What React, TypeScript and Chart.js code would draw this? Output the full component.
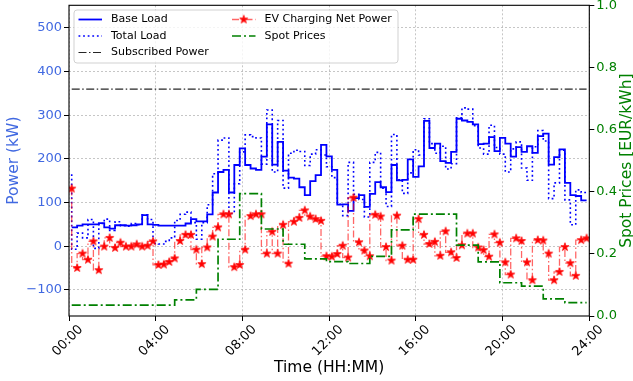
import React, { useEffect, useRef } from 'react';
import { Chart, registerables } from 'chart.js';

Chart.register(...registerables);

// ---- data (96 quarter-hour slots, 00:00 .. 24:00) ----
const BASE_LOAD = [
  43, 43, 47, 50, 50, 50, 53, 43,
  40, 48, 48, 47, 48, 50, 71, 50,
  49, 47, 47, 47, 47, 47, 52, 62,
  57, 57, 73, 123, 170, 175, 123, 186,
  224, 186, 178, 175, 205, 279, 187, 239,
  173, 157, 155, 135, 117, 149, 163, 232,
  206, 175, 95, 96, 81, 110, 117, 90,
  120, 147, 135, 124, 186, 151, 152, 199,
  159, 183, 287, 225, 235, 195, 191, 216,
  292, 288, 285, 279, 234, 235, 250, 218,
  248, 235, 205, 227, 216, 229, 214, 252,
  258, 187, 204, 222, 145, 117, 115, 105,
];

const TOTAL_LOAD = [
  165, -7, 30, 19, 61, -5, 52, 62,
  36, 56, 47, 46, 52, 49, 72, 61,
  6, 5, 11, 19, 59, 73, 78, 54,
  16, 54, 95, 166, 243, 248, 75, 143,
  216, 255, 251, 248, 188, 312, 170, 288,
  133, 213, 220, 217, 185, 211, 221, 209,
  182, 157, 96, 70, 192, 119, 107, 67,
  192, 215, 133, 91, 256, 152, 121, 168,
  221, 209, 292, 235, 213, 229, 177, 189,
  294, 317, 314, 276, 225, 211, 277, 226,
  211, 170, 223, 239, 179, 151, 228, 265,
  241, 109, 145, 220, 106, 49, 129, 123,
];

const EV_NET_POWER = [
  132, -50, -17, -31, 11, -55, -1, 19,
  -4, 8, -1, -1, 4, -1, 1, 11,
  -43, -42, -36, -28, 12, 26, 26, -8,
  -41, -3, 22, 43, 73, 73, -48, -43,
  -8, 69, 73, 73, -17, 33, -17, 49,
  -40, 56, 65, 82, 68, 62, 58, -23,
  -24, -18, 1, -26, 111, 9, -10, -23,
  72, 68, -2, -33, 70, 1, -31, -31,
  62, 26, 5, 10, -22, 34, -14, -27,
  2, 29, 29, -3, -9, -24, 27, 8,
  -37, -65, 18, 12, -37, -78, 14, 13,
  -17, -78, -59, -2, -39, -68, 14, 18,
];

const SPOT_PRICES = [
  0.035, 0.035, 0.035, 0.035, 0.035, 0.035, 0.035, 0.035,
  0.035, 0.035, 0.035, 0.035, 0.035, 0.035, 0.035, 0.035,
  0.035, 0.035, 0.035, 0.035, 0.052, 0.052, 0.052, 0.052,
  0.086, 0.086, 0.086, 0.086, 0.247, 0.247, 0.247, 0.247,
  0.394, 0.394, 0.394, 0.394, 0.280, 0.280, 0.280, 0.280,
  0.231, 0.231, 0.231, 0.231, 0.184, 0.184, 0.184, 0.184,
  0.175, 0.175, 0.175, 0.175, 0.169, 0.169, 0.169, 0.169,
  0.192, 0.192, 0.192, 0.192, 0.277, 0.277, 0.277, 0.277,
  0.328, 0.328, 0.328, 0.328, 0.328, 0.328, 0.328, 0.328,
  0.228, 0.228, 0.228, 0.228, 0.174, 0.174, 0.174, 0.174,
  0.107, 0.107, 0.107, 0.107, 0.096, 0.096, 0.096, 0.096,
  0.055, 0.055, 0.055, 0.055, 0.043, 0.043, 0.043, 0.043,
];

const SUBSCRIBED_POWER = 360;

const X_TICKS = [0, 4, 8, 12, 16, 20, 24];
const X_TICK_LABELS = ['00:00', '04:00', '08:00', '12:00', '16:00', '20:00', '24:00'];
const Y_TICKS = [-100, 0, 100, 200, 300, 400, 500];
const Y2_TICKS = [0, 0.2, 0.4, 0.6, 0.8, 1.0];

// ---- styles ----
const FONT = "'DejaVu Sans', sans-serif";
const ROYAL = '#4169e1';
const GREEN = '#008000';
const GRID_COLOR = 'rgba(160,160,160,0.75)';

const slotHour = (i: number) => (i + 0.5) / 4;
const toPoints = (arr: number[]) => arr.map((v, i) => ({ x: slotHour(i), y: v }));

function makeStar(color: string, R: number) {
  const size = Math.ceil(R * 2 + 3);
  const c = document.createElement('canvas');
  c.width = size;
  c.height = size;
  const g = c.getContext('2d')!;
  const cx = size / 2, cy = size / 2;
  const r = R * 0.381966;
  g.beginPath();
  for (let k = 0; k < 10; k++) {
    const a = -Math.PI / 2 + (k * Math.PI) / 5;
    const rad = k % 2 === 0 ? R : r;
    const px = cx + rad * Math.cos(a);
    const py = cy + rad * Math.sin(a);
    if (k === 0) g.moveTo(px, py); else g.lineTo(px, py);
  }
  g.closePath();
  g.fillStyle = color;
  g.fill();
  g.strokeStyle = color;
  g.lineWidth = 0.8;
  g.stroke();
  return c;
}

const framePlugin = {
  id: 'frame',
  afterDatasetsDraw(chart: any) {
    const { ctx, chartArea: a } = chart;
    ctx.save();
    ctx.strokeStyle = '#000';
    ctx.lineWidth = 1.1;
    ctx.setLineDash([]);
    ctx.strokeRect(a.left, a.top, a.right - a.left, a.bottom - a.top);
    ctx.restore();
  },
};

const rightTitlePlugin = {
  id: 'rightTitle',
  afterDraw(chart: any) {
    const { ctx, chartArea: a } = chart;
    ctx.save();
    ctx.translate(627, (a.top + a.bottom) / 2);
    ctx.rotate(-Math.PI / 2);
    ctx.font = `15.5px ${FONT}`;
    ctx.fillStyle = GREEN;
    ctx.textAlign = 'center';
    ctx.textBaseline = 'middle';
    ctx.fillText('Spot Prices [EUR/kWh]', 0, 0);
    ctx.restore();
  },
};

// legend layout: [datasetIndex, column, row]
const LEGEND_LAYOUT = [
  [0, 0, 0],
  [1, 0, 1],
  [2, 0, 2],
  [3, 1, 0],
  [4, 1, 1],
];

function makeLegendPlugin(star: HTMLCanvasElement) {
  return {
    id: 'mplLegend',
    afterDraw(chart: any) {
      const ctx = chart.ctx;
      ctx.save();
      const bx = 74, by = 10, bw = 324, bh = 53, rr = 3;
      ctx.beginPath();
      ctx.moveTo(bx + rr, by);
      ctx.lineTo(bx + bw - rr, by);
      ctx.arcTo(bx + bw, by, bx + bw, by + rr, rr);
      ctx.lineTo(bx + bw, by + bh - rr);
      ctx.arcTo(bx + bw, by + bh, bx + bw - rr, by + bh, rr);
      ctx.lineTo(bx + rr, by + bh);
      ctx.arcTo(bx, by + bh, bx, by + bh - rr, rr);
      ctx.lineTo(bx, by + rr);
      ctx.arcTo(bx, by, bx + rr, by, rr);
      ctx.closePath();
      ctx.fillStyle = 'rgba(255,255,255,0.8)';
      ctx.fill();
      ctx.strokeStyle = 'rgba(204,204,204,0.9)';
      ctx.lineWidth = 1;
      ctx.setLineDash([]);
      ctx.stroke();

      const colX = [78.5, 232];
      const handleLen = 23.5;
      const textGap = 9;
      const rowY = [19.5, 36, 52.5];
      ctx.font = `11px ${FONT}`;
      ctx.textBaseline = 'middle';
      ctx.textAlign = 'left';
      for (const [di, col, row] of LEGEND_LAYOUT) {
        const ds = chart.data.datasets[di];
        const x1 = colX[col];
        const x2 = x1 + handleLen;
        const y = rowY[row];
        ctx.beginPath();
        ctx.strokeStyle = ds.borderColor;
        ctx.lineWidth = ds.borderWidth;
        ctx.setLineDash(ds.borderDash || []);
        ctx.moveTo(x1, y);
        ctx.lineTo(x2, y);
        ctx.stroke();
        ctx.setLineDash([]);
        if (ds.pointStyle && typeof ds.pointStyle !== 'string') {
          ctx.drawImage(star, (x1 + x2) / 2 - star.width / 2, y - star.height / 2);
        }
        ctx.fillStyle = '#000';
        ctx.fillText(ds.label, x2 + textGap, y);
      }
      ctx.restore();
    },
  };
}

export default function App() {
  const canvasRef = useRef<HTMLCanvasElement>(null);

  useEffect(() => {
    document.body.style.margin = '0';
    const canvas = canvasRef.current;
    if (!canvas) return;
    Chart.defaults.font.family = FONT;
    const star = makeStar('#ff0000', 4.3);

    const chart = new Chart(canvas, {
      type: 'line',
      data: {
        datasets: [
          {
            label: 'Base Load',
            data: toPoints(BASE_LOAD),
            borderColor: '#0000ff',
            borderWidth: 1.8,
            stepped: 'after',
            pointRadius: 0,
            yAxisID: 'y',
            order: 4,
          },
          {
            label: 'Total Load',
            data: toPoints(TOTAL_LOAD),
            borderColor: '#0000ff',
            borderWidth: 1.6,
            borderDash: [1.8, 2.8],
            stepped: 'after',
            pointRadius: 0,
            yAxisID: 'y',
            order: 3,
          },
          {
            label: 'Subscribed Power',
            data: [
              { x: slotHour(0), y: SUBSCRIBED_POWER },
              { x: slotHour(BASE_LOAD.length - 1), y: SUBSCRIBED_POWER },
            ],
            borderColor: 'rgba(0,0,0,0.85)',
            borderWidth: 1.1,
            borderDash: [8, 2.5, 1.5, 2.5],
            pointRadius: 0,
            yAxisID: 'y',
            order: 2,
          },
          {
            label: 'EV Charging Net Power',
            data: toPoints(EV_NET_POWER),
            borderColor: 'rgba(255,0,0,0.6)',
            borderWidth: 1.3,
            borderDash: [7, 2.5, 1.5, 2.5],
            stepped: 'after',
            pointStyle: star,
            pointRadius: 4,
            yAxisID: 'y',
            order: 1,
          },
          {
            label: 'Spot Prices',
            data: toPoints(SPOT_PRICES),
            borderColor: GREEN,
            borderWidth: 1.7,
            borderDash: [9, 3, 2, 3],
            stepped: 'after',
            pointRadius: 0,
            yAxisID: 'y1',
            order: 0,
          },
        ],
      } as any,
      options: {
        responsive: false,
        animation: false,
        devicePixelRatio: 1,
        layout: { padding: { top: 5, left: 0, right: 0, bottom: 0 } },
        plugins: {
          legend: { display: false },
          tooltip: { enabled: false },
        },
        elements: { line: { tension: 0, fill: false } },
        scales: {
          x: {
            type: 'linear',
            min: 0,
            max: 24,
            afterBuildTicks: (s: any) => {
              s.ticks = X_TICKS.map((v) => ({ value: v }));
            },
            afterFit: (s: any) => {
              s.height = 65;
              s.paddingLeft = 0;
              s.paddingRight = 0;
            },
            ticks: {
              autoSkip: false,
              minRotation: 45,
              maxRotation: 45,
              padding: 1,
              labelOffset: 12,
              color: '#000',
              font: { size: 13 },
              callback: (_v: any, i: number) => X_TICK_LABELS[i],
            },
            grid: {
              color: GRID_COLOR,
              lineWidth: 0.8,
              tickLength: 5,
              tickColor: '#000',
              tickWidth: 1,
            },
            border: { display: false, dash: [2, 2] },
            title: {
              display: true,
              text: 'Time (HH:MM)',
              color: '#000',
              font: { size: 15.5 },
              padding: { top: 0, bottom: 4 },
            },
          },
          y: {
            type: 'linear',
            position: 'left',
            min: -160,
            max: 552,
            afterBuildTicks: (s: any) => {
              s.ticks = Y_TICKS.map((v) => ({ value: v }));
            },
            afterFit: (s: any) => {
              s.width = 69;
              s.paddingTop = 0;
              s.paddingBottom = 0;
            },
            ticks: {
              color: ROYAL,
              padding: 2,
              font: { size: 13 },
              callback: (v: any) => (v < 0 ? '\u2212' + Math.abs(v) : String(v)),
            },
            grid: {
              color: GRID_COLOR,
              lineWidth: 0.8,
              tickLength: 5,
              tickColor: '#000',
              tickWidth: 1,
            },
            border: { display: false, dash: [2, 2] },
            title: {
              display: true,
              text: 'Power (kW)',
              color: ROYAL,
              font: { size: 15.5 },
              padding: { top: 5, bottom: 0 },
            },
          },
          y1: {
            type: 'linear',
            position: 'right',
            min: 0,
            max: 1,
            afterBuildTicks: (s: any) => {
              s.ticks = Y2_TICKS.map((v) => ({ value: v }));
            },
            afterFit: (s: any) => {
              s.width = 43.7;
              s.paddingTop = 0;
              s.paddingBottom = 0;
            },
            ticks: {
              color: GREEN,
              padding: 2,
              font: { size: 13 },
              callback: (v: any) => Number(v).toFixed(1),
            },
            grid: {
              drawOnChartArea: false,
              tickLength: 5,
              tickColor: '#000',
              tickWidth: 1,
            },
            border: { display: false },
          },
        },
      } as any,
      plugins: [framePlugin, rightTitlePlugin, makeLegendPlugin(star)],
    });

    return () => chart.destroy();
  }, []);

  return (
    <div style={{ position: 'absolute', left: 0, top: 0, width: 633, height: 381 }}>
      <canvas ref={canvasRef} width={633} height={381} style={{ display: 'block', width: 633, height: 381 }} />
    </div>
  );
}
